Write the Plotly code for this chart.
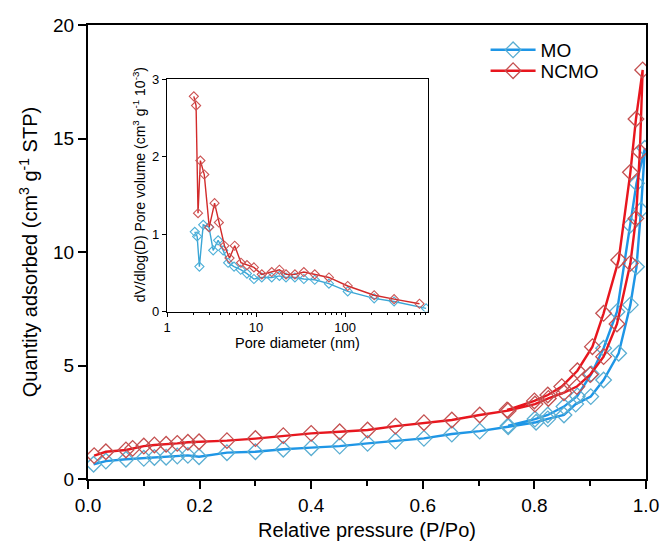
import plotly.graph_objects as go

# ---------------- main isotherm data ----------------
mo_ads_x = [0.010, 0.032, 0.068, 0.100, 0.119, 0.140, 0.160, 0.179, 0.199, 0.249, 0.300, 0.350,
            0.400, 0.451, 0.501, 0.551, 0.602, 0.652, 0.702, 0.753, 0.803, 0.824, 0.853, 0.874,
            0.901, 0.924, 0.951, 0.972, 0.983, 0.991, 0.998]
mo_ads_y = [0.65, 0.79, 0.87, 0.91, 0.95, 0.96, 1.01, 1.04, 0.98, 1.16, 1.20, 1.31,
            1.38, 1.45, 1.57, 1.67, 1.79, 1.98, 2.11, 2.30, 2.50, 2.65, 2.82, 3.30,
            3.63, 4.36, 5.54, 7.67, 9.35, 11.85, 14.57]
mo_des_x = [0.983, 0.972, 0.948, 0.924, 0.902, 0.877, 0.853, 0.824, 0.801, 0.753]
mo_des_y = [13.03, 11.19, 7.37, 5.76, 4.63, 3.66, 3.19, 2.82, 2.64, 2.35]

ncmo_ads_x = [0.011, 0.032, 0.068, 0.080, 0.100, 0.119, 0.140, 0.160, 0.179, 0.199, 0.249, 0.300,
              0.350, 0.400, 0.451, 0.501, 0.551, 0.602, 0.652, 0.702, 0.753, 0.801, 0.825, 0.853,
              0.876, 0.900, 0.924, 0.948, 0.972, 0.982, 0.989, 0.994]
ncmo_ads_y = [1.03, 1.20, 1.28, 1.35, 1.45, 1.50, 1.53, 1.57, 1.62, 1.64, 1.69, 1.78,
              1.91, 2.01, 2.08, 2.16, 2.33, 2.48, 2.60, 2.82, 3.01, 3.30, 3.55, 3.80,
              4.07, 4.60, 5.39, 6.83, 9.50, 11.48, 14.42, 18.02]
ncmo_des_x = [0.982, 0.972, 0.951, 0.924, 0.904, 0.877, 0.849, 0.824, 0.800, 0.751]
ncmo_des_y = [15.86, 13.51, 9.65, 7.30, 5.83, 4.77, 4.07, 3.70, 3.44, 3.04]

# ---------------- inset pore size distribution ----------------
mo_pd = [2.05, 2.18, 2.31, 2.55, 2.96, 3.30, 3.75, 4.27, 4.85, 5.66, 6.72, 7.90, 9.46,
         11.6, 15.0, 18.3, 21.7, 27.3, 34.4, 45.6, 65.8, 107, 212, 355, 812]
mo_pv = [1.03, 0.97, 0.58, 1.12, 1.09, 0.79, 0.92, 0.79, 0.63, 0.58, 0.54, 0.49, 0.42,
         0.44, 0.44, 0.46, 0.44, 0.44, 0.42, 0.41, 0.36, 0.26, 0.17, 0.13, 0.04]
ncmo_pd = [2.00, 2.12, 2.23, 2.37, 2.62, 2.98, 3.42, 3.82, 4.42, 5.03, 5.76, 6.77, 7.90,
           9.46, 11.6, 15.0, 18.3, 21.7, 27.3, 34.4, 45.6, 65.8, 107, 212, 355, 684]
ncmo_pv = [2.78, 2.66, 1.27, 1.95, 1.77, 1.09, 1.40, 1.15, 0.85, 0.69, 0.85, 0.63, 0.60,
           0.57, 0.48, 0.51, 0.54, 0.48, 0.48, 0.51, 0.48, 0.44, 0.33, 0.21, 0.16, 0.10]

series_names = ["MO", "NCMO"]
x_ticks = [0.0, 0.2, 0.4, 0.6, 0.8, 1.0]
y_ticks = [0, 5, 10, 15, 20]
inset_y_ticks = [0, 1, 2, 3]

FONT = "Arial, Liberation Sans, sans-serif"
BLUE_LINE, BLUE_MK = "#1e96e6", "#5aaed2"
RED_LINE, RED_MK = "#e8161e", "#c45050"

fig = go.Figure()

fig.add_trace(go.Scatter(
    x=mo_ads_x + mo_des_x, y=mo_ads_y + mo_des_y, name=series_names[0], mode="lines+markers",
    line=dict(color=BLUE_LINE, width=2.4),
    marker=dict(symbol="diamond-open", size=12, color=BLUE_MK, line=dict(width=1.3)),
    xaxis="x", yaxis="y", legend="legend"))
fig.add_trace(go.Scatter(
    x=ncmo_ads_x + ncmo_des_x, y=ncmo_ads_y + ncmo_des_y, name=series_names[1], mode="lines+markers",
    line=dict(color=RED_LINE, width=2.4),
    marker=dict(symbol="diamond-open", size=12, color=RED_MK, line=dict(width=1.3)),
    xaxis="x", yaxis="y", legend="legend2"))

fig.add_trace(go.Scatter(
    x=mo_pd, y=mo_pv, mode="lines+markers", showlegend=False,
    line=dict(color="#3aa6d6", width=1.4),
    marker=dict(symbol="diamond-open", size=7, color="#4fb0d8", line=dict(width=1.1)),
    xaxis="x2", yaxis="y2"))
fig.add_trace(go.Scatter(
    x=ncmo_pd, y=ncmo_pv, mode="lines+markers", showlegend=False,
    line=dict(color="#d22a2a", width=1.4),
    marker=dict(symbol="diamond-open", size=7, color="#cc5555", line=dict(width=1.1)),
    xaxis="x2", yaxis="y2"))

axis_common = dict(showline=True, mirror=True, linecolor="black", showgrid=False,
                   zeroline=False, ticks="outside", tickcolor="black")

legend_common = dict(xanchor="left", yanchor="middle", bgcolor="rgba(0,0,0,0)",
                     font=dict(size=19), itemwidth=45, tracegroupgap=0)

fig.update_layout(
    width=671, height=550,
    margin=dict(l=88, r=20, t=25, b=71),
    paper_bgcolor="white", plot_bgcolor="white",
    font=dict(family=FONT, color="black"),
    xaxis=dict(**axis_common, domain=[0, 1], range=[0, 1], linewidth=2.2, tickwidth=2, ticklen=8,
               tickvals=x_ticks, ticktext=[f"{v:.1f}" for v in x_ticks],
               tickfont=dict(size=19),
               minor=dict(ticks="outside", tickvals=[0.1, 0.3, 0.5, 0.7, 0.9], ticklen=5,
                          tickwidth=2, tickcolor="black"),
               title=dict(text="Relative pressure (P/Po)", font=dict(size=20), standoff=8),
               anchor="y"),
    yaxis=dict(**axis_common, domain=[0, 1], range=[0, 20], linewidth=2.2, tickwidth=2, ticklen=8,
               tickvals=y_ticks, tickfont=dict(size=19),
               title=dict(text="Quantity adsorbed (cm<sup>3</sup> g<sup>-1</sup> STP)",
                          font=dict(size=20), standoff=10),
               anchor="x"),
    xaxis2=dict(**axis_common, type="log", domain=[0.1416, 0.6092], range=[0, 2.93],
                linewidth=1.2, tickwidth=1, ticklen=4, dtick=1,
                tickfont=dict(size=13),
                minor=dict(ticks="outside", ticklen=2.5, tickwidth=1, tickcolor="black",
                           tickvals=[2, 3, 4, 5, 6, 7, 8, 9, 20, 30, 40, 50, 60, 70, 80, 90,
                                     200, 300, 400, 500, 600, 700, 800]),
                title=dict(text="Pore diameter (nm)", font=dict(size=14.5), standoff=1),
                anchor="y2"),
    yaxis2=dict(**axis_common, domain=[0.3689, 0.8804], range=[0, 3],
                linewidth=1.2, tickwidth=1, ticklen=4, tickvals=inset_y_ticks,
                tickfont=dict(size=13),
                anchor="x2"),
    legend=dict(**legend_common, x=0.7125, y=0.945),
    legend2=dict(**legend_common, x=0.7125, y=0.899),
    annotations=[dict(
        text="dV/dlog(D) Pore volume (cm<sup>3</sup> g<sup>-1</sup> 10<sup>-3</sup>)",
        xref="paper", yref="paper", x=0.092, y=0.6476, textangle=-90,
        showarrow=False, font=dict(size=14), xanchor="center", yanchor="middle")],
)

fig.write_html("out.html")
